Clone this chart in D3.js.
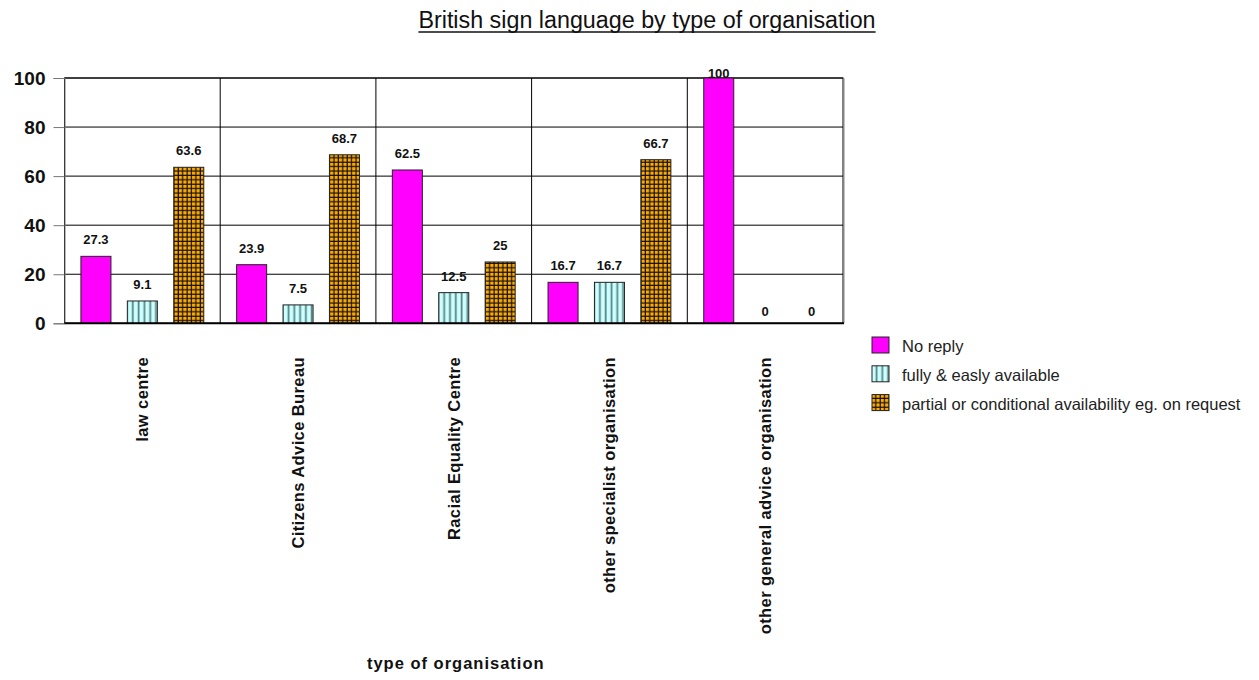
<!DOCTYPE html>
<html>
<head>
<meta charset="utf-8">
<script src="https://cdn.jsdelivr.net/npm/d3@7"></script>
<style>
  html, body { margin: 0; padding: 0; background: #fff; }
  svg { display: block; font-family: Arial, "Liberation Sans", sans-serif; }
</style>
</head>
<body>
<svg id="chart" width="1259" height="680"></svg>
<script>
// Survey results: availability of British sign language by organisation type (%)
const categories = [
  "law centre",
  "Citizens Advice Bureau",
  "Racial Equality Centre",
  "other specialist organisation",
  "other general advice organisation"
];
const seriesNames = [
  "No reply",
  "fully & easly available",
  "partial or conditional availability eg. on request"
];
const noReply      = [27.3, 23.9, 62.5, 16.7, 100];
const fullyAvail   = [9.1, 7.5, 12.5, 16.7, 0];
const partialAvail = [63.6, 68.7, 25, 66.7, 0];
const yTicks = [0, 20, 40, 60, 80, 100];

const seriesValues = [noReply, fullyAvail, partialAvail];

const svg = d3.select("#chart");
const defs = svg.append("defs");

// vertical stripe fill
const stripes = defs.append("pattern")
  .attr("id", "stripes").attr("patternUnits", "userSpaceOnUse")
  .attr("width", 5.8).attr("height", 10);
stripes.append("rect").attr("width", 5.8).attr("height", 10).attr("fill", "#ccffff");
stripes.append("rect").attr("x", 3.6).attr("width", 1.8).attr("height", 10).attr("fill", "#5b8585");

// checked fill
const checks = defs.append("pattern")
  .attr("id", "checks").attr("patternUnits", "userSpaceOnUse")
  .attr("width", 4.4).attr("height", 4.4);
checks.append("rect").attr("width", 4.4).attr("height", 4.4).attr("fill", "#ffaa00");
checks.append("rect").attr("x", 3.2).attr("width", 1.2).attr("height", 4.4).attr("fill", "#111");
checks.append("rect").attr("y", 3.2).attr("width", 4.4).attr("height", 1.2).attr("fill", "#111");

const fills = ["#ff00ff", "url(#stripes)", "url(#checks)"];

const plot = { left: 64.5, right: 843, top: 78, bottom: 323.3 };

const x0 = d3.scaleBand().domain(categories)
  .range([plot.left, plot.right]).paddingInner(0).paddingOuter(0);
const x1 = d3.scaleBand().domain(d3.range(seriesNames.length))
  .range([0, x0.bandwidth()]).paddingInner(0.353).paddingOuter(0.354);
const y = d3.scaleLinear().domain([0, 100]).range([plot.bottom, plot.top]);

// title
const title = svg.append("text")
  .attr("x", 647).attr("y", 28)
  .attr("text-anchor", "middle")
  .attr("font-size", 23.3).attr("fill", "#111")
  .text("British sign language by type of organisation");
const tb = title.node().getBBox();
svg.append("line")
  .attr("x1", tb.x).attr("x2", tb.x + tb.width)
  .attr("y1", 32).attr("y2", 32)
  .attr("stroke", "#111").attr("stroke-width", 1.4);

// horizontal gridlines
svg.append("g").selectAll("line").data(yTicks.filter(t => t > 0)).join("line")
  .attr("x1", plot.left).attr("x2", plot.right)
  .attr("y1", d => y(d)).attr("y2", d => y(d))
  .attr("stroke", "#000").attr("stroke-width", 1);

// category separators
svg.append("g").selectAll("line").data(categories.slice(1)).join("line")
  .attr("x1", d => x0(d)).attr("x2", d => x0(d))
  .attr("y1", plot.top).attr("y2", plot.bottom)
  .attr("stroke", "#000").attr("stroke-width", 1);

// plot frame
svg.append("rect")
  .attr("x", plot.left).attr("y", plot.top)
  .attr("width", plot.right - plot.left).attr("height", plot.bottom - plot.top)
  .attr("fill", "none").attr("stroke", "#000").attr("stroke-width", 1);
svg.append("line")
  .attr("x1", plot.right + 1).attr("x2", plot.right + 1)
  .attr("y1", plot.top).attr("y2", plot.bottom)
  .attr("stroke", "#888").attr("stroke-width", 1);

// y axis
const yAxis = svg.append("g")
  .attr("transform", `translate(${plot.left},0)`)
  .call(d3.axisLeft(y).tickValues(yTicks).tickSize(11).tickPadding(8));
yAxis.select(".domain").attr("stroke", "#777");
yAxis.selectAll(".tick line").attr("stroke", "#777");
yAxis.selectAll(".tick text")
  .attr("font-size", 19).attr("font-weight", "bold")
  .attr("font-family", "Arial, 'Liberation Sans', sans-serif")
  .attr("fill", "#111");

// bars
const groups = svg.append("g").selectAll("g").data(categories).join("g")
  .attr("transform", d => `translate(${x0(d)},0)`);

groups.selectAll("rect")
  .data((c, ci) => seriesValues.map((vals, si) => ({ si, v: vals[ci] })))
  .join("rect")
  .filter(d => d.v > 0)
  .attr("x", d => x1(d.si))
  .attr("y", d => y(d.v))
  .attr("width", x1.bandwidth())
  .attr("height", d => y(0) - y(d.v))
  .attr("fill", d => fills[d.si])
  .attr("stroke", "#222").attr("stroke-width", 1);

// value labels
groups.selectAll("text.val")
  .data((c, ci) => seriesValues.map((vals, si) => ({ si, v: vals[ci] })))
  .join("text").attr("class", "val")
  .attr("x", d => x1(d.si) + x1.bandwidth() / 2)
  .attr("y", d => d.v === 0 ? y(0) - 7.5 : Math.max(y(d.v) - 12, plot.top))
  .attr("text-anchor", "middle")
  .attr("font-size", 13).attr("font-weight", "bold").attr("fill", "#111")
  .text(d => d3.format("~g")(d.v));

// baseline
svg.append("line")
  .attr("x1", plot.left).attr("x2", plot.right + 1)
  .attr("y1", plot.bottom).attr("y2", plot.bottom)
  .attr("stroke", "#000").attr("stroke-width", 2);

// category labels (rotated)
svg.append("g").selectAll("text").data(categories).join("text")
  .attr("transform", d => `translate(${x0(d) + x0.bandwidth() / 2 + 6},357) rotate(-90)`)
  .attr("text-anchor", "end")
  .attr("font-size", 16.5).attr("font-weight", "bold").attr("fill", "#111")
  .attr("letter-spacing", 0.4)
  .text(d => d);

// x axis title
svg.append("text")
  .attr("x", (plot.left + plot.right) / 2 + 2).attr("y", 669)
  .attr("text-anchor", "middle")
  .attr("font-size", 16.5).attr("font-weight", "bold").attr("fill", "#111")
  .attr("letter-spacing", 1)
  .text("type of organisation");

// legend
const legend = svg.append("g").attr("transform", "translate(872,337)");
const items = legend.selectAll("g").data(seriesNames).join("g")
  .attr("transform", (d, i) => `translate(0,${i * 28.8})`);
items.append("rect")
  .attr("width", 17).attr("height", 16)
  .attr("fill", (d, i) => fills[i])
  .attr("stroke", "#222").attr("stroke-width", 1);
items.append("text")
  .attr("x", 30).attr("y", 15)
  .attr("font-size", 16.5).attr("fill", "#222")
  .text(d => d);
</script>
</body>
</html>
